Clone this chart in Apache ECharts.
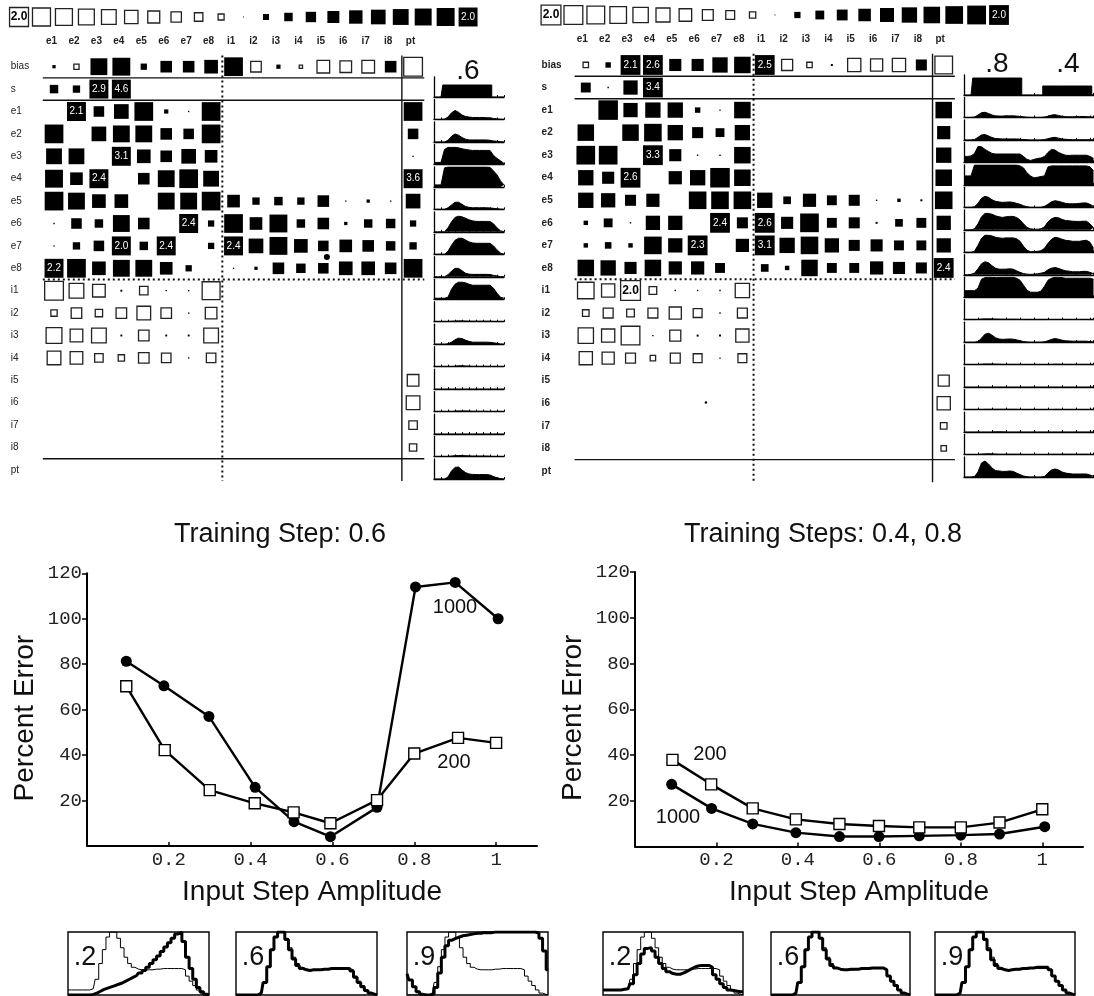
<!DOCTYPE html>
<html><head><meta charset="utf-8">
<style>html,body{margin:0;padding:0;background:#fff}#c{width:1094px;height:996px}</style>
<script src="https://cdn.jsdelivr.net/npm/echarts@6/dist/echarts.min.js"></script>
</head><body><div id="c"></div>
<script>
// ---------- categories ----------
const colNames=['e1','e2','e3','e4','e5','e6','e7','e8','i1','i2','i3','i4','i5','i6','i7','i8','pt'];
const rowNames=['bias','s','e1','e2','e3','e4','e5','e6','e7','e8','i1','i2','i3','i4','i5','i6','i7','i8','pt'];
const legendWeights=[-2,-1.8,-1.6,-1.4,-1.2,-1,-.8,-.6,-.4,-.2,0.005,.2,.4,.6,.8,1,1.2,1.4,1.6,1.8,2];
// ---------- weights, network trained on 0.6 ----------
const L_bias=[.06,-.15,1.58,1.78,.22,.75,.75,1.04,1.95,-.62,.1,-.06,-.89,-.75,-.89,.75,-1.95];
const L_s=[.4,.3,2.9,4.6,0,0,0,0,0,0,0,0,0,0,0,0,0];
const L_e1=[0,2.1,.62,1.2,1.95,.1,.01,1.95,0,0,0,0,0,0,0,0,1.95];
const L_e2=[1.95,0,1.2,1.58,1.58,.75,.62,1.95,0,0,0,0,0,0,0,0,.62];
const L_e3=[1.39,1.39,0,3.1,1.04,.75,1.2,.89,0,0,0,0,0,0,0,0,.01];
const L_e4=[1.78,.89,2.4,0,.75,1.58,1.95,1.39,0,0,0,0,0,0,0,0,3.6];
const L_e5=[1.95,1.58,1.04,1.04,0,1.58,1.58,1.95,.89,.3,.4,.3,.75,.01,.06,.01,1.2];
const L_e6=[.01,.62,.4,1.58,.75,0,2.4,.22,1.95,.89,1.78,.4,.75,.06,.4,.5,.22];
const L_e7=[.01,.3,.62,2,.4,2.4,0,.22,2.4,1.2,1.78,1.04,.62,.89,.75,.5,.3];
const L_e8=[2.2,1.95,1.04,1.58,1.58,.89,.22,0,.01,.06,.75,.5,.62,1.04,1.04,.75,1.95];
const L_i1=[-1.95,-1.2,-.89,.02,-.4,.01,.01,-1.78,0,0,0,0,0,0,0,0,0];
const L_i2=[-.22,-.62,-.3,-.62,-1.04,-.62,.01,-.75,0,0,0,0,0,0,0,0,0];
const L_i3=[-1.39,-.89,-1.2,.02,-.62,.02,.02,-1.2,0,0,0,0,0,0,0,0,0];
const L_i4=[-1.04,-.89,-.4,-.22,-.62,-.5,.01,-.5,0,0,0,0,0,0,0,0,0];
const L_i5=[0,0,0,0,0,0,0,0,0,0,0,0,0,0,0,0,-.75];
const L_i6=[0,0,0,0,0,0,0,0,0,0,0,0,0,0,0,0,-1.04];
const L_i7=[0,0,0,0,0,0,0,0,0,0,0,0,0,0,0,0,-.4];
const L_i8=[0,0,0,0,0,0,0,0,0,0,0,0,0,0,0,0,-.3];
const L_pt=[0,0,0,0,0,0,0,0,0,0,0,0,0,0,0,0,0];
const weightsLeft=[L_bias,L_s,L_e1,L_e2,L_e3,L_e4,L_e5,L_e6,L_e7,L_e8,L_i1,L_i2,L_i3,L_i4,L_i5,L_i6,L_i7,L_i8,L_pt];
// ---------- weights, network trained on 0.4, 0.8 ----------
const R_bias=[-.15,.15,2.1,2.6,.75,.75,1.2,1.39,2.5,-.62,-.15,.02,-.89,-.75,-.89,.62,-1.58];
const R_s=[.5,.01,1.04,3.4,0,0,0,0,0,0,0,0,0,0,0,0,0];
const R_e1=[0,1.95,1.04,1.2,1.2,.15,.01,1.39,0,0,0,0,0,0,0,0,1.39];
const R_e2=[1.39,0,1.39,1.58,1.2,.62,.4,1.2,0,0,0,0,0,0,0,0,.89];
const R_e3=[1.78,1.78,0,3.3,.75,.01,.01,1.39,0,0,0,0,0,0,0,0,1.2];
const R_e4=[1.2,.75,2.6,0,.89,1.2,1.95,1.39,0,0,0,0,0,0,0,0,1.39];
const R_e5=[1.2,1.04,.62,.89,0,1.58,1.58,1.58,1.2,.3,.89,.5,.62,.01,.06,.02,1.58];
const R_e6=[.1,.4,.01,1.04,1.04,0,2.4,.62,2.6,.75,1.78,.5,.62,.02,.3,.5,1.04];
const R_e7=[.1,.22,.1,1.58,1.04,2.3,0,.89,3.1,1.2,1.58,1.04,.62,.75,.5,.5,1.04];
const R_e8=[1.39,1.2,.75,1.39,.89,.89,.5,0,.3,.1,1.39,.5,.5,.89,.75,.62,2.4];
const R_i1=[-1.39,-.89,-2,-.3,.01,.01,.01,-1.04,0,0,0,0,0,0,0,0,0];
const R_i2=[-.22,-.5,-.3,-.5,-.75,-.4,.01,-.5,0,0,0,0,0,0,0,0,0];
const R_i3=[-1.2,-.89,-1.78,.01,-.62,.02,.02,-.89,0,0,0,0,0,0,0,0,0];
const R_i4=[-.89,-.75,-.5,-.15,-.5,-.4,.01,-.4,0,0,0,0,0,0,0,0,0];
const R_i5=[0,0,0,0,0,0,0,0,0,0,0,0,0,0,0,0,-.62];
const R_i6=[0,0,0,0,0,0,0,0,0,0,0,0,0,0,0,0,-.89];
const R_i7=[0,0,0,0,0,0,0,0,0,0,0,0,0,0,0,0,-.22];
const R_i8=[0,0,0,0,0,0,0,0,0,0,0,0,0,0,0,0,-.15];
const R_pt=[0,0,0,0,0,0,0,0,0,0,0,0,0,0,0,0,0];
const weightsRight=[R_bias,R_s,R_e1,R_e2,R_e3,R_e4,R_e5,R_e6,R_e7,R_e8,R_i1,R_i2,R_i3,R_i4,R_i5,R_i6,R_i7,R_i8,R_pt];
// stray marks printed in the diagrams, in column/row units
const specksLeft=[[12.66,9.0,6]];
const specksRight=[[5.87,15.47,2.5]];
// ---------- unit activations, trained on 0.6 ----------
const wl_s=[0,0,0,.6,.6,.6,.6,.6,.6,.6,.6,.6,.6,.6,.6,.6,.6,0,0,0,0];
const wl_e1=[0,0,0,.02,.12,.33,.45,.36,.22,.15,.12,.1,.1,.1,.1,.09,.08,.05,.03,.01,0];
const wl_e2=[0,0,0,0,.08,.28,.4,.34,.22,.14,.1,.1,.1,.1,.1,.1,.08,.05,.03,.01,0];
const wl_e3=[.1,.1,.1,.75,.85,.85,.85,.83,.78,.75,.72,.7,.7,.7,.7,.7,.7,.45,.3,.18,.05];
const wl_e4=[.1,.1,.1,.95,1,1,1,1,1,1,1,1,1,1,1,1,.98,.8,.6,.3,.1];
const wl_e5=[0,0,0,0,.08,.22,.35,.36,.25,.14,.1,.08,.08,.08,.08,.08,.07,.05,.03,.01,0];
const wl_e6=[0,0,0,0,.2,.5,.72,.78,.75,.68,.6,.55,.52,.52,.52,.52,.52,.4,.2,.05,0];
const wl_e7=[0,0,0,0,.15,.45,.7,.8,.8,.72,.62,.57,.55,.55,.55,.55,.55,.42,.22,.06,0];
const wl_e8=[0,0,0,0,.1,.28,.42,.42,.3,.18,.13,.12,.12,.12,.12,.12,.11,.07,.04,.01,0];
const wl_i1=[.05,.05,.05,.05,.1,.5,.75,.85,.85,.82,.75,.7,.7,.7,.7,.7,.7,.55,.3,.1,.05];
const wl_i2=[0,0,0,0,0,.02,.03,.04,.04,.03,.02,.02,.02,.02,.02,.02,.02,.01,0,0,0];
const wl_i3=[0,0,0,0,.02,.1,.22,.3,.28,.2,.14,.1,.1,.1,.1,.1,.09,.07,.04,.01,0];
const wl_i4=[0,0,0,0,0,0,.02,.04,.04,.03,.02,.01,.01,.01,.01,.01,0,0,0,0,0];
const wl_i5=[0,0,0,0,0,0,0,0,0,0,0,0,0,0,0,0,0,0,0,0,0];
const wl_i6=[0,0,0,0,0,0,.02,.03,.03,.03,.02,.01,.01,.01,.01,.01,0,0,0,0,0];
const wl_i7=[0,0,0,0,0,0,0,0,0,0,0,0,0,0,0,0,0,0,0,0,0];
const wl_i8=[0,0,0,0,0,.02,.04,.05,.05,.04,.03,.02,.02,.02,.02,.02,.01,0,0,0,0];
const wl_pt=[0,0,0,0,.1,.4,.58,.6,.45,.32,.25,.23,.22,.22,.22,.22,.2,.12,.06,.02,0];
const wavesLeft=[wl_s,wl_e1,wl_e2,wl_e3,wl_e4,wl_e5,wl_e6,wl_e7,wl_e8,wl_i1,wl_i2,wl_i3,wl_i4,wl_i5,wl_i6,wl_i7,wl_i8,wl_pt];
// ---------- unit activations, trained on 0.4, 0.8 ----------
const wr_s=[0,0,0,.85,.85,.85,.85,.85,.85,.85,.85,.85,.85,.85,.85,.85,.85,0,0,0,0,0,0,.45,.45,.45,.45,.45,.45,.45,.45,.45,.45,.45,.45,.45,.45,0];
const wr_e1=[0,0,0,.02,.12,.24,.26,.2,.12,.08,.07,.07,.08,.08,.08,.07,.05,.03,.01,0,0,0,0,.02,.06,.12,.14,.1,.06,.04,.03,.03,.04,.05,.05,.04,.03,.01];
const wr_e2=[0,0,0,.02,.13,.25,.27,.2,.12,.07,.06,.05,.05,.05,.05,.05,.04,.02,.01,0,0,0,0,.02,.06,.11,.13,.09,.05,.03,.02,.01,.01,.01,.01,.01,.01,0];
const wr_e3=[.3,.3,.32,.45,.8,.78,.65,.55,.45,.42,.42,.42,.42,.42,.42,.42,.42,.3,.15,.1,.15,.2,.22,.3,.5,.65,.62,.5,.42,.36,.35,.36,.36,.36,.36,.36,.3,.2];
const wr_e4=[.45,.45,.45,1,1,1,1,1,1,1,1,1,1,1,1,1,.95,.85,.6,.45,.35,.38,.42,.45,.9,.95,.95,.95,.95,.95,.95,.95,.95,.95,.95,.95,.9,.7];
const wr_e5=[0,0,0,.03,.2,.45,.55,.5,.38,.3,.27,.25,.26,.27,.25,.2,.15,.08,.03,0,0,0,0,.05,.15,.28,.33,.3,.25,.2,.18,.18,.18,.2,.22,.22,.15,.05];
const wr_e6=[0,0,0,.05,.3,.65,.82,.82,.78,.7,.65,.62,.65,.67,.67,.62,.5,.3,.12,.05,.03,.03,.05,.15,.4,.55,.62,.6,.52,.47,.45,.43,.42,.42,.43,.43,.3,.1];
const wr_e7=[0,0,0,.05,.35,.7,.85,.85,.82,.75,.72,.7,.72,.72,.72,.68,.55,.3,.1,.03,.03,.05,.08,.2,.45,.65,.75,.72,.65,.6,.58,.55,.55,.55,.58,.6,.5,.2];
const wr_e8=[0,0,.02,.08,.3,.55,.65,.6,.45,.33,.28,.28,.28,.3,.28,.2,.12,.06,.03,.02,.03,.05,.08,.12,.25,.33,.36,.32,.25,.2,.18,.15,.15,.15,.17,.17,.12,.05];
const wr_i1=[.33,.33,.33,.33,.45,.9,.98,1,1,.98,.98,1,1,1,1,.95,.85,.6,.35,.25,.25,.25,.3,.55,.85,.95,1,1,.98,.95,.95,.95,.95,.95,.95,.95,.95,.9];
const wr_i2=[0,0,0,0,.01,.03,.04,.04,.04,.03,.02,.02,.02,.02,.02,.02,.01,0,0,0,0,0,0,0,.01,.01,.01,.01,.01,.01,.01,.01,.01,.01,.01,.01,0,0];
const wr_i3=[0,0,0,0,.03,.2,.4,.45,.35,.22,.16,.14,.15,.16,.15,.12,.07,.03,.01,0,0,0,0,.02,.07,.14,.18,.15,.1,.07,.06,.05,.05,.05,.05,.05,.03,.01];
const wr_i4=[0,0,0,0,0,.02,.03,.03,.03,.02,.02,.01,.01,.01,.01,.01,.01,0,0,0,0,0,0,0,0,.01,.02,.02,.01,.01,.01,.01,.01,.01,.01,.01,0,0];
const wr_i5=[0,0,0,0,0,0,0,0,0,0,0,0,0,0,0,0,0,0,0,0,0,0,0,0,0,0,0,0,0,0,0,0,0,0,0,0,0,0];
const wr_i6=[0,0,0,0,0,0,.01,.01,.01,.01,.01,.01,.01,.01,.01,.01,0,0,0,0,0,0,0,0,0,0,.01,.01,0,0,0,0,0,0,0,0,0,0];
const wr_i7=[0,0,0,0,0,0,0,0,0,.01,.01,.01,0,0,0,0,0,0,0,0,0,0,0,0,0,0,0,0,0,0,0,0,0,0,0,0,0,0];
const wr_i8=[0,0,0,0,0,.02,.03,.04,.03,.02,.01,.01,.01,.01,.01,.01,.01,0,0,0,0,0,0,0,0,.01,.01,.01,.01,.01,.01,.01,.01,.01,.01,.01,0,0];
const wr_pt=[0,0,0,.02,.25,.7,.8,.65,.45,.32,.3,.28,.28,.3,.28,.2,.12,.05,.01,0,0,0,0,.03,.2,.35,.4,.35,.25,.2,.17,.15,.15,.15,.15,.15,.1,.04];
const wavesRight=[wr_s,wr_e1,wr_e2,wr_e3,wr_e4,wr_e5,wr_e6,wr_e7,wr_e8,wr_i1,wr_i2,wr_i3,wr_i4,wr_i5,wr_i6,wr_i7,wr_i8,wr_pt];
// ---------- percent error curves ----------
const ampA1000=[.096,.188,.298,.411,.506,.595,.709,.803,.90,1.005];
const errA1000=[81.3,70.5,57,25.8,10.7,4.1,17,114,116,100];
const ampA200=[.096,.19,.30,.41,.505,.595,.709,.80,.907,1.0];
const errA200=[70.3,42.2,24.6,18.8,14.8,10,20.2,40.7,47.6,45.4];
const ampB200=[.092,.187,.289,.395,.502,.599,.698,.80,.895,1.0];
const errB200=[37.9,27.2,16.7,11.9,9.9,9,8.4,8.4,10.5,16.3];
const ampB1000=[.09,.188,.289,.395,.502,.599,.698,.80,.895,1.006];
const errB1000=[27.2,16.7,9.9,6.1,4.4,4.4,4.7,5,5.5,8.7];
const ampTicks=[.2,.4,.6,.8,1];
const errTicks=[20,40,60,80,100,120];
// ---------- response traces under the curves ----------
const target=[0,0,0,0,0,0,0,.03,.2,.45,.72,.92,1,1,.9,.75,.6,.5,.44,.41,.4,.4,.4,.4,.41,.41,.42,.42,.42,.42,.42,.42,.4,.3,.22,.15,.08,.03,.01,0];
const targetRaised=[.08,.08,.08,.08,.08,.08,.08,.1,.25,.5,.72,.92,1,1,.9,.75,.6,.5,.44,.41,.4,.4,.4,.4,.41,.41,.42,.42,.42,.42,.42,.42,.4,.3,.22,.15,.08,.03,.01,0];
const outA2=[0,0,0,0,0,0,0,.01,.03,.06,.09,.11,.13,.15,.17,.19,.22,.25,.28,.31,.35,.39,.44,.5,.56,.62,.69,.76,.83,.9,.97,1,.85,.6,.42,.25,.12,.05,.01,0];
const outA6=[0,0,0,0,0,0,0,.03,.2,.45,.72,.92,1,1,.88,.72,.57,.47,.42,.4,.39,.4,.4,.4,.41,.41,.42,.42,.42,.42,.42,.42,.38,.28,.2,.13,.07,.03,.01,0];
const outA9=[.34,.24,.13,.05,.01,0,0,.02,.12,.35,.6,.78,.87,.9,.92,.94,.95,.96,.97,.98,.98,.99,.99,.99,1,1,1,1,1,1,1,1,1,1,1,1,.98,.9,.7,.4];
const outB2=[.08,.08,.08,.08,.08,.08,.09,.1,.18,.32,.5,.65,.74,.75,.7,.6,.5,.42,.37,.34,.33,.33,.35,.38,.41,.44,.46,.47,.47,.47,.44,.32,.25,.18,.12,.08,.07,.06,.05,.05];
const outB6=[0,0,0,0,0,0,0,.03,.2,.45,.72,.92,1,1,.9,.72,.57,.47,.43,.41,.4,.4,.41,.41,.41,.42,.42,.42,.43,.43,.43,.43,.4,.3,.22,.15,.08,.03,.01,0];
const outB9=[0,0,0,0,0,0,0,.03,.2,.45,.72,.92,1,1,.88,.72,.56,.47,.42,.4,.39,.4,.41,.41,.42,.42,.43,.43,.44,.44,.44,.44,.4,.3,.22,.15,.08,.03,.01,0];

// ---------- builders ----------
const grid=[],xAxis=[],yAxis=[],series=[],title=[];
const F='"Liberation Sans",Arial,sans-serif';
function text(t,cx,cy,size,opt){title.push(Object.assign({text:t,left:cx,top:cy,textAlign:'center',textVerticalAlign:'middle',padding:0,
  textStyle:{fontFamily:F,fontSize:size,fontWeight:'normal',color:'#111'}},opt||{}));}
function cell(col,row,w,k){
  const big=Math.abs(w)>=2;
  return {value:[col,row,w],symbolSize:k*Math.sqrt(Math.min(Math.abs(w),2)),
    itemStyle:w>0?{color:'#000',opacity:1}:{color:'#fff',borderColor:'#222',borderWidth:1.3,opacity:1},
    label:{show:big,position:'inside',formatter:Math.abs(w).toFixed(1),color:w>0?'#fff':'#000',fontFamily:F,fontSize:w>0?10:12,fontWeight:w>0?'normal':'bold'}};
}
function hinton(cfg){
  const g=grid.length;
  grid.push({left:cfg.left,top:cfg.top,width:cfg.width,height:cfg.height});
  const x0=xAxis.length,y0=yAxis.length;
  xAxis.push({gridIndex:g,type:'category',data:colNames,position:'top',axisLine:{show:false},axisTick:{show:false},
    axisLabel:{margin:9,interval:0,fontFamily:F,fontSize:10,fontWeight:'bold',color:'#222',padding:[0,cfg.pad,0,0]}});
  xAxis.push({gridIndex:g,type:'value',min:0,max:17,show:false});
  yAxis.push({gridIndex:g,type:'category',data:rowNames,inverse:true,axisLine:{show:false},axisTick:{show:false},
    axisLabel:{margin:cfg.ymargin,align:'left',interval:0,fontFamily:F,fontSize:10,fontWeight:cfg.yw,color:'#222'}});
  yAxis.push({gridIndex:g,type:'value',min:0,max:19,inverse:true,show:false});
  const data=[];
  cfg.weights.forEach((r,ri)=>r.forEach((w,ci)=>{if(w!==0)data.push(cell(ci,ri,w,cfg.k));}));
  const hline=(v,type)=>series.push({type:'line',xAxisIndex:x0+1,yAxisIndex:y0+1,data:[[0,v],[17,v]],symbol:'none',silent:true,
    lineStyle:{color:'#111',width:type==='solid'?1.4:2,type:type==='solid'?'solid':[2,3]}});
  const vline=(v,type)=>series.push({type:'line',xAxisIndex:x0+1,yAxisIndex:y0+1,data:[[v,0],[v,19]],symbol:'none',silent:true,
    lineStyle:{color:'#111',width:type==='solid'?1.4:2,type:type==='solid'?'solid':[2,3]}});
  hline(1,'solid');hline(2,'solid');hline(10,'dot');hline(18,'solid');vline(8,'dot');vline(16,'solid');
  series.push({type:'scatter',xAxisIndex:x0,yAxisIndex:y0,symbol:'rect',data:data,silent:true,z:5});
  series.push({type:'scatter',xAxisIndex:x0+1,yAxisIndex:y0+1,symbol:'circle',silent:true,z:5,
    data:cfg.specks.map(s=>({value:[s[0],s[1]],symbolSize:s[2]})),itemStyle:{color:'#000',opacity:1}});
}
function legendStrip(left,top,width,k){
  const g=grid.length;
  grid.push({left:left,top:top,width:width,height:22});
  const xi=xAxis.length,yi=yAxis.length;
  xAxis.push({gridIndex:g,type:'category',data:legendWeights.map(String),show:false});
  yAxis.push({gridIndex:g,type:'category',data:['w'],show:false});
  series.push({type:'scatter',xAxisIndex:xi,yAxisIndex:yi,symbol:'rect',silent:true,
    data:legendWeights.map((w,i)=>cell(i,0,w,k))});
}
function wave(vals,left,base,width,tickEvery,stepped){
  const g=grid.length;
  grid.push({left:left,top:base-20,width:width,height:20});
  const xi=xAxis.length,yi=yAxis.length;
  xAxis.push({gridIndex:g,type:'value',min:0,max:vals.length-1,interval:tickEvery,
    axisLine:{show:true,onZero:false,lineStyle:{color:'#000',width:1.3}},axisTick:{show:true,inside:true,length:2,lineStyle:{color:'#000',width:1}},axisLabel:{show:false},splitLine:{show:false}});
  yAxis.push({gridIndex:g,type:'value',min:0,max:1,
    axisLine:{show:true,lineStyle:{color:'#000',width:1.3}},axisTick:{show:false},axisLabel:{show:false},splitLine:{show:false}});
  series.push({type:'line',xAxisIndex:xi,yAxisIndex:yi,data:vals.map((v,i)=>[i,v]),symbol:'none',silent:true,step:stepped?'middle':false,
    lineStyle:{color:'#000',width:1},areaStyle:{color:'#000',opacity:1}});
}
function errorChart(cfg){
  const g=grid.length;
  grid.push({left:cfg.left,top:cfg.top,width:cfg.width,height:cfg.height});
  const xi=xAxis.length,yi=yAxis.length;
  const mono={fontFamily:'"Liberation Mono",monospace',fontSize:19,color:'#222'};
  xAxis.push({gridIndex:g,type:'value',min:0,max:1.1,name:'Input Step Amplitude',nameLocation:'middle',nameGap:32,
    nameTextStyle:{fontFamily:F,fontSize:28,color:'#111'},
    axisLine:{lineStyle:{color:'#000',width:2}},splitLine:{show:false},
    axisTick:{inside:true,length:4,customValues:ampTicks,lineStyle:{color:'#000',width:1.5}},
    axisLabel:Object.assign({margin:4,customValues:ampTicks,formatter:v=>v>=1?'1':v.toFixed(1)},mono)});
  yAxis.push({gridIndex:g,type:'value',min:0,max:120,interval:20,name:'Percent Error',nameLocation:'middle',nameGap:cfg.nameGap,nameRotate:90,
    nameTextStyle:{fontFamily:F,fontSize:28,color:'#111',padding:[0,17,0,0]},
    axisLine:{lineStyle:{color:'#000',width:2}},splitLine:{show:false},
    axisTick:{length:5,customValues:errTicks,lineStyle:{color:'#000',width:1.5}},
    axisLabel:Object.assign({margin:5,customValues:errTicks,formatter:v=>String(v)},mono)});
  const pairs=(a,b)=>a.map((x,i)=>[x,b[i]]);
  series.push({type:'line',xAxisIndex:xi,yAxisIndex:yi,data:pairs(cfg.ax1,cfg.ay1),symbol:'circle',symbolSize:11,silent:true,
    lineStyle:{color:'#000',width:2.4},itemStyle:{color:'#000'}});
  series.push({type:'line',xAxisIndex:xi,yAxisIndex:yi,data:pairs(cfg.ax2,cfg.ay2),symbol:'rect',symbolSize:11,silent:true,
    lineStyle:{color:'#000',width:2.4},itemStyle:{color:'#fff',borderColor:'#000',borderWidth:1.4}});
}
function trace(thin,thick,left,width,lab){
  const g=grid.length;
  grid.push({left:left,top:932,width:width,height:63,show:true,borderColor:'#000',borderWidth:1.4,backgroundColor:'transparent'});
  const xi=xAxis.length,yi=yAxis.length;
  xAxis.push({gridIndex:g,type:'value',min:0,max:39,show:false});
  yAxis.push({gridIndex:g,type:'value',min:0,max:1,show:false});
  series.push({type:'line',xAxisIndex:xi,yAxisIndex:yi,data:thin.map((v,i)=>[i,v]),symbol:'none',step:'middle',silent:true,lineStyle:{color:'#000',width:1}});
  series.push({type:'line',xAxisIndex:xi,yAxisIndex:yi,data:thick.map((v,i)=>[i,v]),symbol:'none',step:'middle',silent:true,lineStyle:{color:'#000',width:3}});
  text(lab,left+17,958,27);
}

// ---------- layout ----------
legendStrip(7.8,6,471.5,13.4);
legendStrip(539.8,4,470.4,14);
hinton({weights:weightsLeft,specks:specksLeft,left:42.8,top:55.5,width:381.5,height:425.6,k:13.4,pad:5,ymargin:32,yw:'normal'});
hinton({weights:weightsRight,specks:specksRight,left:574.6,top:53.7,width:380.3,height:428.5,k:14,pad:7,ymargin:33,yw:'bold'});
wavesLeft.forEach((w,i)=>wave(w,434,97+i*22.47,70,2,i===0));
wavesRight.forEach((w,i)=>wave(w,964,95+i*22.47,129.5,4,i===0));
errorChart({left:87,top:573.3,width:450,height:272.7,nameGap:48,ax1:ampA1000,ay1:errA1000,ax2:ampA200,ay2:errA200});
errorChart({left:635,top:572,width:448,height:274.6,nameGap:48,ax1:ampB1000,ay1:errB1000,ax2:ampB200,ay2:errB200});
trace(targetRaised,outA2,68,141,'.2');
trace(target,outA6,236,141,'.6');
trace(target,outA9,407,141,'.9');
trace(targetRaised,outB2,603,140,'.2');
trace(target,outB6,771,139,'.6');
trace(target,outB9,935,140,'.9');
text('.6',468,71,28);
text('.8',997,64,28);
text('.4',1068,64,28);
text('Training Step: 0.6',280,535,27);
text('Training Steps: 0.4, 0.8',823,535,27);
text('1000',455,607,20);
text('200',454,762,20);
text('200',710,754,20);
text('1000',678,817,20);

const chart=echarts.init(document.getElementById('c'),null,{renderer:'canvas'});
chart.setOption({animation:false,backgroundColor:'#fff',tooltip:{show:false},legend:{show:false},title,grid,xAxis,yAxis,series});
</script></body></html>
